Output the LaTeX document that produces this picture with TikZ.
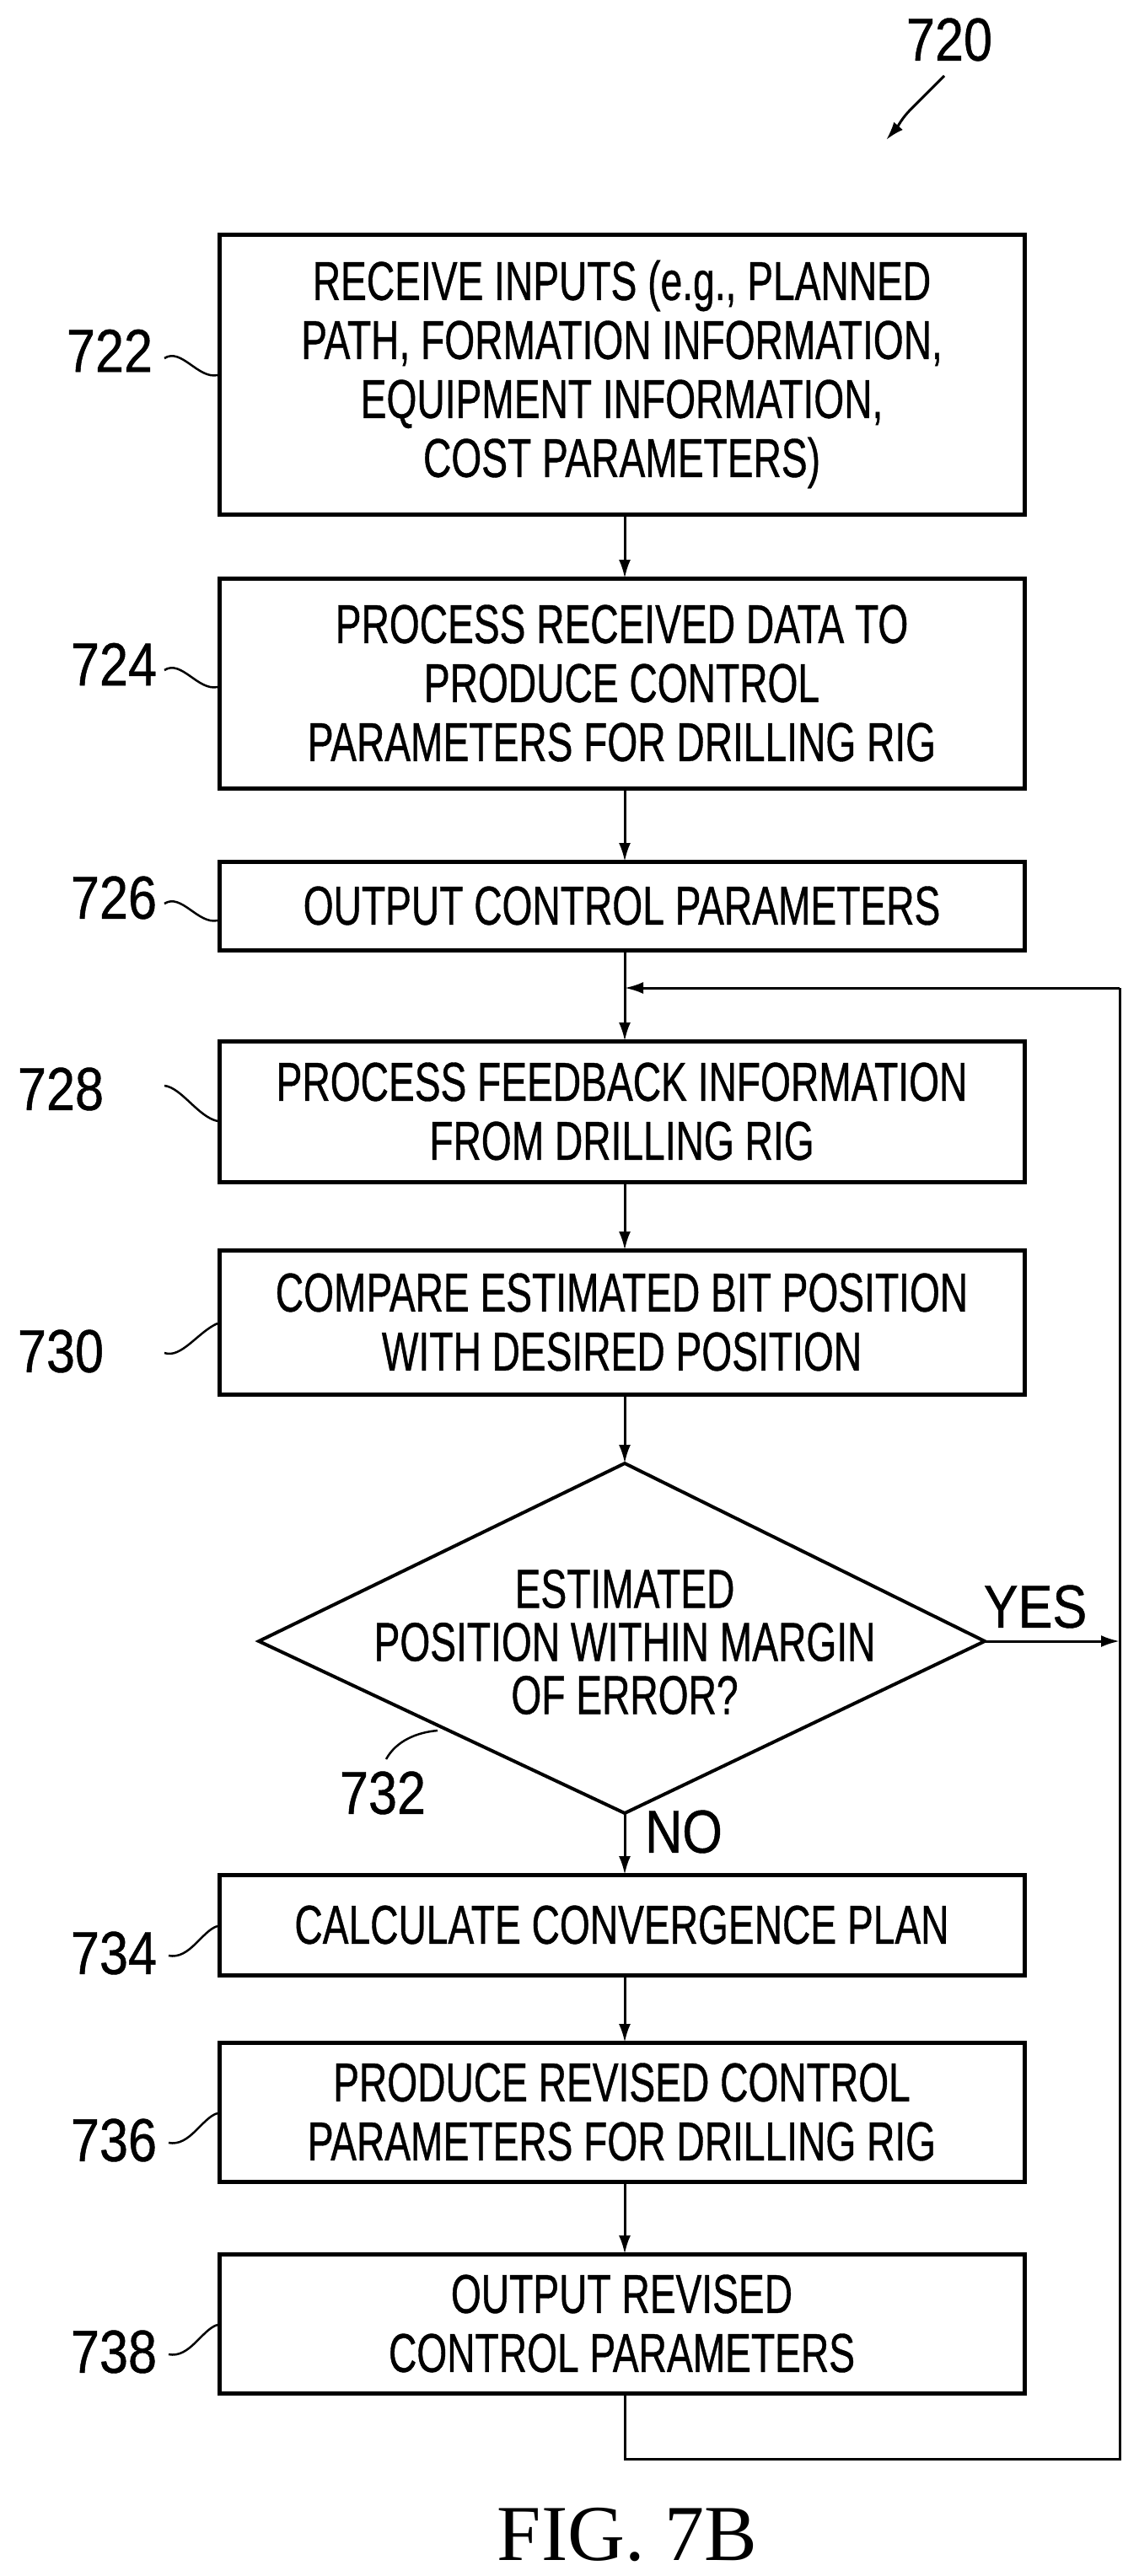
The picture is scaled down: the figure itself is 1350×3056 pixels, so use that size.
\documentclass[tikz,border=0pt]{standalone}
\usepackage{fontspec}
\setmainfont{Liberation Sans}[FakeStretch=0.71,FakeBold=0.6]
\newfontfamily\labfont{Liberation Sans}[FakeStretch=0.85,FakeBold=0.6]
\newfontfamily\figfont{Liberation Serif}
\usetikzlibrary{arrows.meta}
\begin{document}
\begin{tikzpicture}[x=1pt,y=-1pt,
 box/.style={draw,line width=5pt,minimum width=955pt,align=center,font=\fontsize{65}{70}\selectfont,inner sep=0pt},
 lab/.style={font=\labfont\fontsize{72}{72}\selectfont},
 arr/.style={line width=3pt,-{Latex[length=22pt,width=14pt]}},
 ln/.style={line width=3pt},
 sq/.style={line width=2.5pt}]
\useasboundingbox (0,0) rectangle (1350,3056);
\node[box,minimum height=332pt] (b722) at (737.5,444) {RECEIVE INPUTS (e.g., PLANNED\\PATH, FORMATION INFORMATION,\\EQUIPMENT INFORMATION,\\COST PARAMETERS)};
\node[box,minimum height=249pt] (b724) at (737.5,810.5) {PROCESS RECEIVED DATA TO\\PRODUCE CONTROL\\PARAMETERS FOR DRILLING RIG};
\node[box,minimum height=105pt] (b726) at (737.5,1074.5) {OUTPUT CONTROL PARAMETERS};
\node[box,minimum height=167pt] (b728) at (737.5,1318.5) {PROCESS FEEDBACK INFORMATION\\FROM DRILLING RIG};
\node[box,minimum height=171pt] (b730) at (737.5,1568.5) {COMPARE ESTIMATED BIT POSITION\\WITH DESIRED POSITION};
\coordinate (dT) at (741,1736);
\coordinate (dB) at (741,2151);
\coordinate (dL) at (307,1947);
\coordinate (dR) at (1168,1947);
\draw[line width=4pt,line join=miter] (dT) -- (dR) -- (dB) -- (dL) -- cycle;
\node[align=center,font=\fontsize{65}{63}\selectfont] (d732) at (741,1948) {ESTIMATED\\POSITION WITHIN MARGIN\\OF ERROR?};
\node[box,minimum height=119pt] (b734) at (737.5,2283.5) {CALCULATE CONVERGENCE PLAN};
\node[box,minimum height=165pt] (b736) at (737.5,2505.5) {PRODUCE REVISED CONTROL\\PARAMETERS FOR DRILLING RIG};
\node[box,minimum height=165pt] (b738) at (737.5,2756.5) {OUTPUT REVISED\\CONTROL PARAMETERS};
\coordinate (j) at (741,1172);
\coordinate (r1) at (1328,1172);
\coordinate (r2) at (1328,2917);
\coordinate (r3) at (741,2917);
\coordinate (yesend) at (1328,1947);
\draw[arr] (741,610) -- (741,686);
\draw[arr] (741,935) -- (741,1022);
\draw[ln] (741,1127) -- (j);
\draw[arr] (j) -- (741,1235);
\draw[arr] (741,1402) -- (741,1483);
\draw[arr] (741,1654) -- (dT);
\draw[arr] (dB) -- (741,2224);
\draw[arr] (741,2343) -- (741,2423);
\draw[arr] (741,2588) -- (741,2674);
\draw[ln] (741,2839) -- (r3) -- (r2) -- (r1);
\draw[arr] (r1) -- (j);
\draw[arr] (dR) -- (yesend);
\node[lab] (yes) at (1228,1906) {YES};
\node[lab] (no) at (811,2173) {NO};
\node[lab] (l720) at (1126,47) {720};
\draw[arr] (1120,90) .. controls (1100,110) and (1090,120) .. (1080,130) .. controls (1070,140) and (1065,150) .. (1051,166);
\node[lab] (l722) at (130,416) {722};
\draw[sq] (195,425) .. controls (215,412) and (235,450) .. (258,445);
\node[lab] (l724) at (135,788) {724};
\draw[sq] (195,795) .. controls (215,782) and (235,820) .. (258,815);
\node[lab] (l726) at (135,1065) {726};
\draw[sq] (195,1072) .. controls (215,1059) and (235,1097) .. (258,1092);
\node[lab] (l728) at (72,1292) {728};
\draw[sq] (195,1288) .. controls (215,1290) and (235,1325) .. (258,1330);
\node[lab] (l730) at (72,1603) {730};
\draw[sq] (195,1605) .. controls (215,1612) and (235,1580) .. (258,1570);
\node[lab] (l732) at (454,2127) {732};
\draw[sq] (458,2087) .. controls (470,2065) and (495,2055) .. (519,2053);
\node[lab] (l734) at (135,2317) {734};
\draw[sq] (200,2320) .. controls (225,2325) and (240,2290) .. (258,2285);
\node[lab] (l736) at (135,2539) {736};
\draw[sq] (200,2542) .. controls (225,2547) and (240,2512) .. (258,2507);
\node[lab] (l738) at (135,2790) {738};
\draw[sq] (200,2793) .. controls (225,2798) and (240,2763) .. (258,2758);
\node[font=\figfont\fontsize{94}{94}\selectfont] (fig) at (744,3007) {FIG. 7B};
\end{tikzpicture}
\end{document}
